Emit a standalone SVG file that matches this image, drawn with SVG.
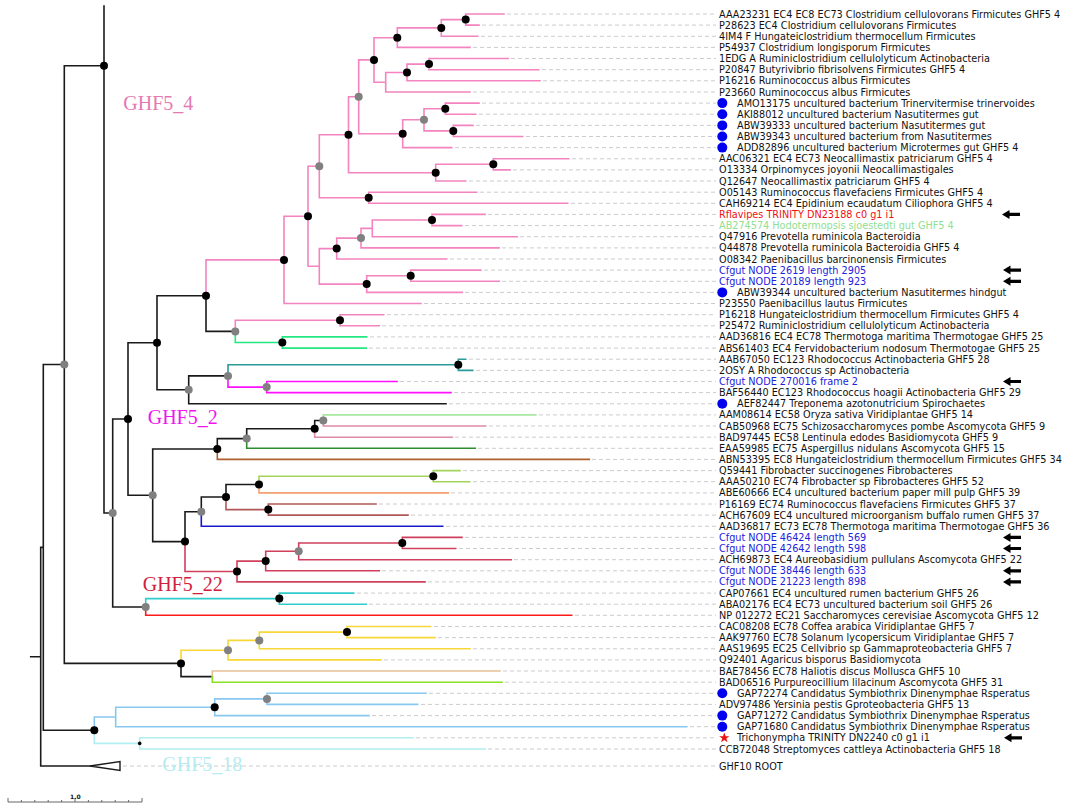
<svg xmlns="http://www.w3.org/2000/svg" width="1065" height="805" viewBox="0 0 1065 805">
<defs>
<style>
.b{fill:none;stroke-width:1.6;stroke-linecap:square}
.P{stroke:#f484bf}.K{stroke:#1a1a1a}.G{stroke:#22e882}.T{stroke:#2a9a9a}.M{stroke:#ff10ff}
.LG{stroke:#a8e8a0}.DP{stroke:#e08aa5}.DG{stroke:#2e8b2e}.BR{stroke:#b0602e}.LI{stroke:#a4d45c}
.SA{stroke:#f4a070}.IR{stroke:#b05858}.BL{stroke:#1818c8}.CR{stroke:#d0405c}.CY{stroke:#30cccc}
.RD{stroke:#ff1a1a}.Y{stroke:#f8d838}.TA{stroke:#e8c098}.G2{stroke:#88e020}.LB{stroke:#88c8f0}.PC{stroke:#b0eef0}
.dash{fill:none;stroke:#cccccc;stroke-width:1;stroke-dasharray:4 3}
.nb{fill:#000}.ng{fill:#808080}
text{font-family:"DejaVu Sans",sans-serif;font-size:9.7px;fill:#111}
.tr{fill:#ee1111}.tg{fill:#90e090}.tb{fill:#2222dd}
.cl{font-family:"Liberation Serif",serif;font-size:20px}
.bd{fill:#0000ee}
</style>
<symbol id="arr" overflow="visible"><path d="M0 0 L7.5 -4.5 L7.5 -1.6 L18 -1.6 L18 1.6 L7.5 1.6 L7.5 4.5 Z" fill="#000"/></symbol>
</defs>
<rect width="1065" height="805" fill="#fff"/>
<g id="connectors">
<path class="b P" d="M465.7 19.6V14H504M465.7 19.6V25.1H479M441.3 27.9V19.6H465.7M441.3 27.9V36.3H477.7M397.3 37.7V27.9H441.3M397.3 37.7V47.4H470M429 64.1V58.5H508.3M429 64.1V69.7H538.7M407 72.5V64.1H429M407 72.5V80.8H540M385.7 82.2V72.5H407M385.7 82.2V92H470M374 59.9V37.7H397.3M374 59.9V82.2H385.7M445.3 108.7V103.1H479M445.3 108.7V114.2H475.7M453.3 130.9V125.4H473M453.3 130.9V136.5H522.7M424 119.8V108.7H445.3M424 119.8V130.9H453.3M402.7 133.7V119.8H424M402.7 133.7V147.6H451.7M358.7 96.8V59.9H374M358.7 96.8V133.7H402.7M493.3 164.3V158.8H568.7M493.3 164.3V169.9H510M435.7 172.7V164.3H493.3M435.7 172.7V181H465.7M348.5 134.8V96.8H358.7M348.5 134.8V172.7H435.7M368.7 197.7V192.2H476.7M368.7 197.7V203.3H567.7M319.3 166.3V134.8H348.5M319.3 166.3V197.7H368.7M432 220V214.4H485M432 220V225.6H461.7M372.3 228.4V220H432M372.3 228.4V236.7H517.3M361 238.1V228.4H372.3M361 238.1V247.9H499M336.7 248.6V238.1H361M336.7 248.6V259H446.7M410.7 275.7V270.1H480.7M410.7 275.7V281.3H499.3M366.7 284.1V275.7H410.7M366.7 284.1V292.4H462.3M319.3 266.3V248.6H336.7M319.3 266.3V284.1H366.7M308 216.3V166.3H319.3M308 216.3V266.3H319.3M284 259.9V216.3H308M284 259.9V303.5H421M340 320.2V314.7H383.7M340 320.2V325.8H379.3M235.3 331.4V320.2H340M206 295.7V259.9H284"/>
<path class="b G" d="M235.3 331.4V342.5H282.3M282.3 342.5V336.9H366.7M282.3 342.5V348.1H366.3"/>
<path class="b K" d="M206 295.7V331.4H235.3M157 342.8V295.7H206M157 342.8V389.8H188.7M188.7 389.8V375.9H228M188.7 389.8V403.8H446M128 419V342.8H157M128 419V495.3H152.7M152.7 495.3V449H217.3M152.7 495.3V541.6H185M217.3 449V438.6H246.7M246.7 438.6V428.8H314.7M314.7 428.8V420.5H323.3M185 541.6V511.7H201.3M201.3 511.7V497H226M226 497V484.5H259M112.7 513V419H128M112.7 513V607H145.7M104 6V513H112.7M64.3 364.5V65.7H104M64.3 364.5V663.4H181M181 663.4V676.6H212.3M43.3 547.4V364.5H64.3M43.3 547.4V730.2H94.3M30.7 656.7H40.7M40.7 656.7V547.4H43.3M40.7 656.7V766H90"/>
<path class="b T" d="M228 375.9V364.8H458.3M458.3 364.8V359.2H465.7M458.3 364.8V370.4H472.7"/>
<path class="b M" d="M228 375.9V387.1H266.7M266.7 387.1V381.5H397M266.7 387.1V392.6H451"/>
<path class="b LG" d="M323.3 420.5V414.9H535.7"/>
<path class="b DP" d="M323.3 420.5V426H485.7M314.7 428.8V437.2H452.3"/>
<path class="b DG" d="M246.7 438.6V448.3H475.3"/>
<path class="b BR" d="M217.3 449V459.4H589.3"/>
<path class="b LI" d="M259 484.5V476.2H433.3M433.3 476.2V470.6H460M433.3 476.2V481.7H469.7"/>
<path class="b SA" d="M259 484.5V492.9H448.3"/>
<path class="b IR" d="M226 497V509.6H268.3M268.3 509.6V504H376M268.3 509.6V515.1H408"/>
<path class="b BL" d="M201.3 511.7V526.3H442.7"/>
<path class="b CR" d="M185 541.6V571.5H237M237 571.5V561.1H265.7M237 571.5V581.9H425M265.7 561.1V551.3H298.7M265.7 561.1V570.8H379.3M298.7 551.3V543H402.3M298.7 551.3V559.7H511.3M402.3 543V537.4H462M402.3 543V548.5H455.7"/>
<path class="b CY" d="M145.7 607V598.6H279.3M279.3 598.6V593.1H353.7M279.3 598.6V604.2H366.3"/>
<path class="b RD" d="M145.7 607V615.3H571.7"/>
<path class="b Y" d="M181 663.4V650.2H228M228 650.2V640.4H259.3M228 650.2V659.9H381M259.3 640.4V632.1H347M259.3 640.4V648.8H470M347 632.1V626.5H430.7M347 632.1V637.6H435"/>
<path class="b TA" d="M212.3 676.6V671H500"/>
<path class="b G2" d="M212.3 676.6V682.2H502"/>
<path class="b LB" d="M94.3 730.2V717H115.7M115.7 717V707.2H214.7M115.7 717V726.7H686.7M214.7 707.2V698.9H267M214.7 707.2V715.6H369M267 698.9V693.3H426M267 698.9V704.4H417.7"/>
<path class="b PC" d="M94.3 730.2V743.4H139.7M139.7 743.4V737.8H413M139.7 743.4V749H485.3"/>
<path d="M90 766L120 761.5V770.5Z" fill="#fff" stroke="#1a1a1a" stroke-width="1.4"/>
<path class="dash" d="M507 14H716M482 25.1H716M481 36.3H716M473 47.4H716M511 58.5H716M542 69.7H716M543 80.8H716M473 92H716M482 103.1H716M479 114.2H716M476 125.4H716M526 136.5H716M455 147.6H716M572 158.8H716M513 169.9H716M469 181H716M480 192.2H716M571 203.3H716M488 214.4H716M465 225.6H716M520 236.7H716M502 247.9H716M450 259H716M484 270.1H716M502 281.3H716M465 292.4H716M424 303.5H716M387 314.7H716M382 325.8H716M370 336.9H716M369 348.1H716M469 359.2H716M476 370.4H716M400 381.5H716M454 392.6H716M449 403.8H716M539 414.9H716M489 426H716M455 437.2H716M478 448.3H716M592 459.4H716M463 470.6H716M473 481.7H716M451 492.9H716M379 504H716M411 515.1H716M446 526.3H716M465 537.4H716M459 548.5H716M514 559.7H716M382 570.8H716M428 581.9H716M357 593.1H716M369 604.2H716M575 615.3H716M434 626.5H716M438 637.6H716M473 648.8H716M384 659.9H716M503 671H716M505 682.2H716M429 693.3H716M421 704.4H716M372 715.6H716M690 726.7H716M416 737.8H716M488 749H716M123 766H716"/>
</g>
<g id="dots">
<g class="nb">
<circle cx="465.7" cy="19.6" r="4"/><circle cx="441.3" cy="27.9" r="4"/><circle cx="397.3" cy="37.7" r="4"/><circle cx="374" cy="59.9" r="4"/><circle cx="407" cy="72.5" r="4"/><circle cx="429" cy="64.1" r="4"/><circle cx="402.7" cy="133.7" r="4"/><circle cx="445.3" cy="108.7" r="4"/><circle cx="453.3" cy="130.9" r="4"/><circle cx="348.5" cy="134.8" r="4"/><circle cx="435.7" cy="172.7" r="4"/><circle cx="493.3" cy="164.3" r="4"/><circle cx="368.7" cy="197.7" r="4"/><circle cx="432" cy="220" r="4"/><circle cx="336.7" cy="248.6" r="4"/><circle cx="410.7" cy="275.7" r="4"/><circle cx="366.7" cy="284.1" r="4"/><circle cx="308" cy="216.3" r="4"/><circle cx="284" cy="259.9" r="4"/><circle cx="206" cy="295.7" r="4"/><circle cx="340" cy="320.2" r="4"/><circle cx="282.3" cy="342.5" r="4"/><circle cx="458.3" cy="364.8" r="4"/><circle cx="157" cy="342.8" r="4"/><circle cx="128" cy="419" r="4"/><circle cx="217.3" cy="449" r="4"/><circle cx="314.7" cy="428.8" r="4"/><circle cx="433.3" cy="476.2" r="4"/><circle cx="259" cy="484.5" r="4"/><circle cx="268.3" cy="509.6" r="4"/><circle cx="226" cy="497" r="4"/><circle cx="402.3" cy="543" r="4"/><circle cx="265.7" cy="561.1" r="4"/><circle cx="237" cy="571.5" r="4"/><circle cx="185" cy="541.6" r="4"/><circle cx="279.3" cy="598.6" r="4"/><circle cx="104" cy="65.7" r="4"/><circle cx="347" cy="632.1" r="4"/><circle cx="181" cy="663.4" r="4"/><circle cx="214.7" cy="707.2" r="4"/><circle cx="94.3" cy="730.2" r="4"/><circle cx="139.7" cy="743.4" r="1.8"/>
</g>
<g class="ng">
<circle cx="358.7" cy="96.8" r="4"/><circle cx="424" cy="119.8" r="4"/><circle cx="319.3" cy="166.3" r="4"/><circle cx="361" cy="238.1" r="4"/><circle cx="235.3" cy="331.4" r="4"/><circle cx="228" cy="375.9" r="4"/><circle cx="266.7" cy="387.1" r="4"/><circle cx="188.7" cy="389.8" r="4"/><circle cx="152.7" cy="495.3" r="4"/><circle cx="246.7" cy="438.6" r="4"/><circle cx="323.3" cy="420.5" r="4"/><circle cx="201.3" cy="511.7" r="4"/><circle cx="298.7" cy="551.3" r="4"/><circle cx="145.7" cy="607" r="4"/><circle cx="112.7" cy="513" r="4"/><circle cx="259.3" cy="640.4" r="4"/><circle cx="228" cy="650.2" r="4"/><circle cx="64.3" cy="364.5" r="4"/><circle cx="267" cy="698.9" r="4"/>
</g>
</g>
<g id="clade-labels">
<text class="cl" x="123.3" y="110" style="fill:#e47ab2">GHF5_4</text>
<text class="cl" x="147.7" y="424.3" style="fill:#f014f0">GHF5_2</text>
<text class="cl" x="142.7" y="591" style="fill:#d0203e">GHF5_22</text>
<text class="cl" x="162.3" y="770.7" style="fill:#b4ecf0">GHF5_18</text>
</g>
<g id="leaves">
<g id="n1"><text x="719" y="17.5">AAA23231 EC4 EC8 EC73 Clostridium cellulovorans Firmicutes GHF5 4</text></g>
<g id="n2"><text x="719" y="28.6">P28623 EC4 Clostridium cellulovorans Firmicutes</text></g>
<g id="n3"><text x="719" y="39.8">4IM4 F Hungateiclostridium thermocellum Firmicutes</text></g>
<g id="n4"><text x="719" y="50.9">P54937 Clostridium longisporum Firmicutes</text></g>
<g id="n5"><text x="719" y="62">1EDG A Ruminiclostridium cellulolyticum Actinobacteria</text></g>
<g id="n6"><text x="719" y="73.2">P20847 Butyrivibrio fibrisolvens Firmicutes GHF5 4</text></g>
<g id="n7"><text x="719" y="84.3">P16216 Ruminococcus albus Firmicutes</text></g>
<g id="n8"><text x="719" y="95.5">P23660 Ruminococcus albus Firmicutes</text></g>
<g id="n9"><circle class="bd" cx="722.3" cy="103.1" r="5"/><text x="737" y="106.6">AMO13175 uncultured bacterium Trinervitermise trinervoides</text></g>
<g id="n10"><circle class="bd" cx="722.3" cy="114.2" r="5"/><text x="737" y="117.7">AKI88012 uncultured bacterium Nasutitermes gut</text></g>
<g id="n11"><circle class="bd" cx="722.3" cy="125.4" r="5"/><text x="737" y="128.9">ABW39333 uncultured bacterium Nasutitermes gut</text></g>
<g id="n12"><circle class="bd" cx="722.3" cy="136.5" r="5"/><text x="737" y="140">ABW39343 uncultured bacterium from Nasutitermes</text></g>
<g id="n13"><circle class="bd" cx="722.3" cy="147.6" r="5"/><text x="737" y="151.1">ADD82896 uncultured bacterium Microtermes gut GHF5 4</text></g>
<g id="n14"><text x="719" y="162.3">AAC06321 EC4 EC73 Neocallimastix patriciarum GHF5 4</text></g>
<g id="n15"><text x="719" y="173.4">O13334 Orpinomyces joyonii Neocallimastigales</text></g>
<g id="n16"><text x="719" y="184.5">Q12647 Neocallimastix patriciarum GHF5 4</text></g>
<g id="n17"><text x="719" y="195.7">O05143 Ruminococcus flavefaciens Firmicutes GHF5 4</text></g>
<g id="n18"><text x="719" y="206.8">CAH69214 EC4 Epidinium ecaudatum Ciliophora GHF5 4</text></g>
<g id="n19"><text class="tr" x="719" y="217.9">Rflavipes TRINITY DN23188 c0 g1 i1</text><use href="#arr" x="1002" y="214.4"/></g>
<g id="n20"><text class="tg" x="719" y="229.1">AB274574 Hodotermopsis sjoestedti gut GHF5 4</text></g>
<g id="n21"><text x="719" y="240.2">Q47916 Prevotella ruminicola Bacteroidia</text></g>
<g id="n22"><text x="719" y="251.4">Q44878 Prevotella ruminicola Bacteroidia GHF5 4</text></g>
<g id="n23"><text x="719" y="262.5">O08342 Paenibacillus barcinonensis Firmicutes</text></g>
<g id="n24"><text class="tb" x="719" y="273.6">Cfgut NODE 2619 length 2905</text><use href="#arr" x="1003" y="270.1"/></g>
<g id="n25"><text class="tb" x="719" y="284.8">Cfgut NODE 20189 length 923</text><use href="#arr" x="1003" y="281.3"/></g>
<g id="n26"><circle class="bd" cx="722.3" cy="292.4" r="5"/><text x="737" y="295.9">ABW39344 uncultured bacterium Nasutitermes hindgut</text></g>
<g id="n27"><text x="719" y="307">P23550 Paenibacillus lautus Firmicutes</text></g>
<g id="n28"><text x="719" y="318.2">P16218 Hungateiclostridium thermocellum Firmicutes GHF5 4</text></g>
<g id="n29"><text x="719" y="329.3">P25472 Ruminiclostridium cellulolyticum Actinobacteria</text></g>
<g id="n30"><text x="719" y="340.4">AAD36816 EC4 EC78 Thermotoga maritima Thermotogae GHF5 25</text></g>
<g id="n31"><text x="719" y="351.6">ABS61403 EC4 Fervidobacterium nodosum Thermotogae GHF5 25</text></g>
<g id="n32"><text x="719" y="362.7">AAB67050 EC123 Rhodococcus Actinobacteria GHF5 28</text></g>
<g id="n33"><text x="719" y="373.9">2OSY A Rhodococcus sp Actinobacteria</text></g>
<g id="n34"><text class="tb" x="719" y="385">Cfgut NODE 270016 frame 2</text><use href="#arr" x="1003" y="381.5"/></g>
<g id="n35"><text x="719" y="396.1">BAF56440 EC123 Rhodococcus hoagii Actinobacteria GHF5 29</text></g>
<g id="n36"><circle class="bd" cx="722.3" cy="403.8" r="5"/><text x="737" y="407.3">AEF82447 Treponema azotonutricium Spirochaetes</text></g>
<g id="n37"><text x="719" y="418.4">AAM08614 EC58 Oryza sativa Viridiplantae GHF5 14</text></g>
<g id="n38"><text x="719" y="429.5">CAB50968 EC75 Schizosaccharomyces pombe Ascomycota GHF5 9</text></g>
<g id="n39"><text x="719" y="440.7">BAD97445 EC58 Lentinula edodes Basidiomycota GHF5 9</text></g>
<g id="n40"><text x="719" y="451.8">EAA59985 EC75 Aspergillus nidulans Ascomycota GHF5 15</text></g>
<g id="n41"><text x="719" y="462.9">ABN53395 EC8 Hungateiclostridium thermocellum Firmicutes GHF5 34</text></g>
<g id="n42"><text x="719" y="474.1">Q59441 Fibrobacter succinogenes Fibrobacteres</text></g>
<g id="n43"><text x="719" y="485.2">AAA50210 EC74 Fibrobacter sp Fibrobacteres GHF5 52</text></g>
<g id="n44"><text x="719" y="496.4">ABE60666 EC4 uncultured bacterium paper mill pulp GHF5 39</text></g>
<g id="n45"><text x="719" y="507.5">P16169 EC74 Ruminococcus flavefaciens Firmicutes GHF5 37</text></g>
<g id="n46"><text x="719" y="518.6">ACH67609 EC4 uncultured microorganism buffalo rumen GHF5 37</text></g>
<g id="n47"><text x="719" y="529.8">AAD36817 EC73 EC78 Thermotoga maritima Thermotogae GHF5 36</text></g>
<g id="n48"><text class="tb" x="719" y="540.9">Cfgut NODE 46424 length 569</text><use href="#arr" x="1003" y="537.4"/></g>
<g id="n49"><text class="tb" x="719" y="552">Cfgut NODE 42642 length 598</text><use href="#arr" x="1003" y="548.5"/></g>
<g id="n50"><text x="719" y="563.2">ACH69873 EC4 Aureobasidium pullulans Ascomycota GHF5 22</text></g>
<g id="n51"><text class="tb" x="719" y="574.3">Cfgut NODE 38446 length 633</text><use href="#arr" x="1003" y="570.8"/></g>
<g id="n52"><text class="tb" x="719" y="585.4">Cfgut NODE 21223 length 898</text><use href="#arr" x="1003" y="581.9"/></g>
<g id="n53"><text x="719" y="596.6">CAP07661 EC4 uncultured rumen bacterium GHF5 26</text></g>
<g id="n54"><text x="719" y="607.7">ABA02176 EC4 EC73 uncultured bacterium soil GHF5 26</text></g>
<g id="n55"><text x="719" y="618.8">NP 012272 EC21 Saccharomyces cerevisiae Ascomycota GHF5 12</text></g>
<g id="n56"><text x="719" y="630">CAC08208 EC78 Coffea arabica Viridiplantae GHF5 7</text></g>
<g id="n57"><text x="719" y="641.1">AAK97760 EC78 Solanum lycopersicum Viridiplantae GHF5 7</text></g>
<g id="n58"><text x="719" y="652.3">AAS19695 EC25 Cellvibrio sp Gammaproteobacteria GHF5 7</text></g>
<g id="n59"><text x="719" y="663.4">Q92401 Agaricus bisporus Basidiomycota</text></g>
<g id="n60"><text x="719" y="674.5">BAE78456 EC78 Haliotis discus Mollusca GHF5 10</text></g>
<g id="n61"><text x="719" y="685.7">BAD06516 Purpureocillium lilacinum Ascomycota GHF5 31</text></g>
<g id="n62"><circle class="bd" cx="722.3" cy="693.3" r="5"/><text x="737" y="696.8">GAP72274 Candidatus Symbiothrix Dinenymphae Rsperatus</text></g>
<g id="n63"><text x="719" y="707.9">ADV97486 Yersinia pestis Gproteobacteria GHF5 13</text></g>
<g id="n64"><circle class="bd" cx="722.3" cy="715.6" r="5"/><text x="737" y="719.1">GAP71272 Candidatus Symbiothrix Dinenymphae Rsperatus</text></g>
<g id="n65"><circle class="bd" cx="722.3" cy="726.7" r="5"/><text x="737" y="730.2">GAP71680 Candidatus Symbiothrix Dinenymphae Rsperatus</text></g>
<g id="n66"><path d="M724.3 732.6L725.6 736.2L729.4 736.2L726.3 738.5L727.5 742.2L724.3 740L721.1 742.2L722.3 738.5L719.2 736.2L723 736.2Z" fill="#ee1111"/><text x="737" y="741.3">Trichonympha TRINITY DN2240 c0 g1 i1</text><use href="#arr" x="1004" y="737.8"/></g>
<g id="n67"><text x="719" y="752.5">CCB72048 Streptomyces cattleya Actinobacteria GHF5 18</text></g>
<g id="n68"><text x="719" y="769.5">GHF10 ROOT</text></g>
</g>
<g id="scale">
<path d="M8 802H142M8 798V802M21.4 800V802M34.8 800V802M48.2 800V802M61.6 800V802M75 798V802M88.4 800V802M101.8 800V802M115.2 800V802M128.6 800V802M142 798V802" fill="none" stroke="#666" stroke-width="1"/>
<text x="70" y="799" style="font-size:6px;font-weight:bold">1.0</text>
</g>
</svg>
